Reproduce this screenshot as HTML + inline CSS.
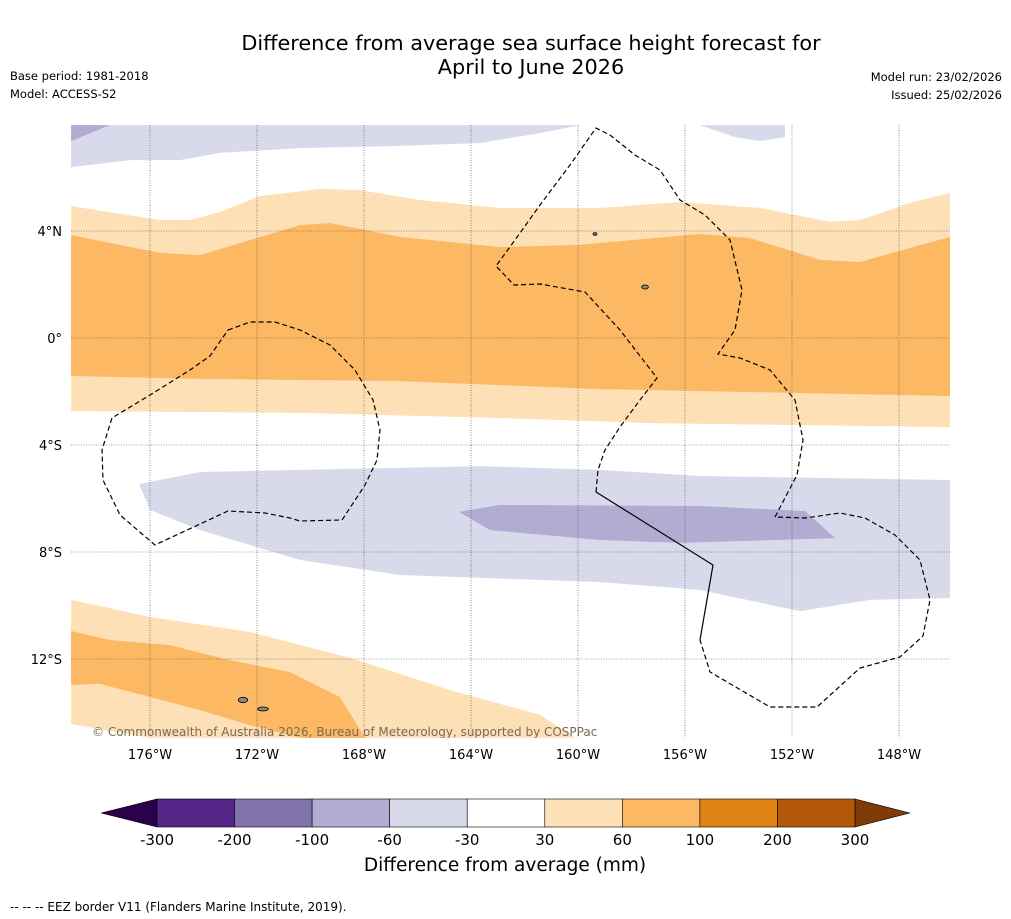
<!DOCTYPE html>
<html><head><meta charset="utf-8"><style>
html,body{margin:0;padding:0;background:#fff;width:1011px;height:919px;overflow:hidden;font-family:"DejaVu Sans","Liberation Sans",sans-serif}
svg{display:block}
</style></head><body>
<svg id="chart" width="1011" height="919" viewBox="0 0 1011 919">
<text x="531" y="50" text-anchor="middle" font-size="20.8">Difference from average sea surface height forecast for</text>
<text x="531" y="74" text-anchor="middle" font-size="20.8">April to June 2026</text>
<text x="10" y="80" font-size="11.5">Base period: 1981-2018</text>
<text x="10" y="98" font-size="11.5">Model: ACCESS-S2</text>
<text x="1002" y="81" font-size="11.5" text-anchor="end">Model run: 23/02/2026</text>
<text x="1002" y="99" font-size="11.5" text-anchor="end">Issued: 25/02/2026</text>
<defs><clipPath id="mapclip"><rect x="71" y="125" width="879" height="613"/></clipPath></defs>
<g id="map" clip-path="url(#mapclip)"></g>
<g id="axes"></g>
<g id="cbar"></g>
<text x="505" y="871" text-anchor="middle" font-size="18.5">Difference from average (mm)</text>
<text x="10" y="911" font-size="12">-- -- -- EEZ border V11 (Flanders Marine Institute, 2019).</text>
</svg>
<script>
const lonTicks=[-176,-172,-168,-164,-160,-156,-152,-148];
const lonTickLabels=["176°W","172°W","168°W","164°W","160°W","156°W","152°W","148°W"];
const latTicks=[4,0,-4,-8,-12];
const latTickLabels=["4°N","0°","4°S","8°S","12°S"];
const cbarLevels=["-300","-200","-100","-60","-30","30","60","100","200","300"];
const cbarColors=["#542788","#8073ac","#b2abd2","#d8daeb","#ffffff","#fee0b6","#fdb863","#e08214","#b35806"];
const lightOrangeNorth=[[-178.95,4.93],[-175.63,4.41],[-174.5,4.41],[-173.38,4.71],[-171.89,5.31],[-169.64,5.57],[-168.15,5.53],[-165.91,5.16],[-162.92,4.86],[-159.18,4.86],[-156.19,5.08],[-153.2,4.86],[-150.58,4.34],[-149.46,4.41],[-147.59,5.05],[-146.09,5.42],[-146.09,-3.33],[-157.31,-3.18],[-162.92,-2.99],[-170.39,-2.8],[-178.95,-2.73]];
const orangeBand=[[-178.95,3.85],[-175.63,3.18],[-174.13,3.1],[-170.39,4.22],[-169.27,4.3],[-166.65,3.78],[-162.92,3.4],[-159.93,3.48],[-155.44,3.89],[-153.57,3.74],[-150.95,2.92],[-149.46,2.84],[-146.09,3.78],[-146.09,-2.17],[-159.18,-1.91],[-166.65,-1.61],[-174.13,-1.53],[-178.95,-1.42]];
const lavenderNorth=[[-178.95,7.96],[-159.93,7.96],[-161.42,7.66],[-163.66,7.29],[-166.65,7.18],[-170.39,7.1],[-173.38,6.92],[-174.88,6.65],[-176.75,6.65],[-178.95,6.39]];
const purpleCorner=[[-178.95,7.96],[-177.5,7.96],[-178.95,7.36]];
const lavenderNE=[[-155.44,7.96],[-152.26,7.96],[-152.26,7.51],[-153.2,7.36],[-154.13,7.51]];
const lavenderMid=[[-176.41,-5.46],[-174.13,-5.01],[-170.39,-4.93],[-163.66,-4.79],[-159.18,-4.93],[-155.44,-5.16],[-146.09,-5.31],[-146.09,-9.72],[-149.08,-9.79],[-151.7,-10.21],[-155.44,-9.42],[-159.18,-9.12],[-163.66,-8.97],[-166.65,-8.86],[-170.39,-8.3],[-174.13,-7.18],[-176,-6.43]];
const purpleMid=[[-164.45,-6.5],[-162.92,-6.24],[-155.44,-6.28],[-151.51,-6.47],[-150.39,-7.48],[-156.19,-7.66],[-159.18,-7.55],[-163.29,-7.18]];
const lightOrangeSouth=[[-178.95,-9.79],[-177.87,-10.02],[-176,-10.43],[-172.26,-10.99],[-168.52,-11.96],[-164.79,-13.16],[-161.42,-14.09],[-160.11,-14.95],[-176,-14.95],[-178.95,-14.43]];
const orangeSouth=[[-178.95,-10.95],[-177.5,-11.29],[-175.25,-11.48],[-173.01,-12.04],[-170.77,-12.49],[-168.9,-13.42],[-167.96,-14.95],[-170.39,-14.95],[-172.26,-14.47],[-174.13,-13.91],[-176,-13.42],[-177.87,-12.93],[-178.95,-12.97]];
const X=lon=>150+(lon+176)*26.75, Y=lat=>338-lat*26.75;
const NS='http://www.w3.org/2000/svg';
function mk(tag,attrs,parent){const e=document.createElementNS(NS,tag);for(const k in attrs)e.setAttribute(k,attrs[k]);parent.appendChild(e);return e;}
const map=document.getElementById('map'),axes=document.getElementById('axes'),cb=document.getElementById('cbar');
function poly(arr,fill,name){const p=mk('polygon',{points:arr.map(d=>X(d[0]).toFixed(1)+','+Y(d[1]).toFixed(1)).join(' '),fill:fill},map);

}
poly(lightOrangeNorth,'#fee0b6','contour-30-60-north');
poly(orangeBand,'#fdb863','contour-60-100-equatorial');
poly(lavenderNorth,'#d8daeb','contour-neg30-neg60-north');
poly(purpleCorner,'#b2abd2','contour-neg60-neg100-corner');
poly(lavenderNE,'#d8daeb','contour-neg30-neg60-northeast');
poly(lavenderMid,'#d8daeb','contour-neg30-neg60-south');
poly(purpleMid,'#b2abd2','contour-neg60-neg100-south');
poly(lightOrangeSouth,'#fee0b6','contour-30-60-southwest');
poly(orangeSouth,'#fdb863','contour-60-100-southwest');
lonTicks.forEach((v,i)=>{const l=mk('line',{x1:X(v),x2:X(v),y1:125,y2:738,stroke:'#444','stroke-width':0.6,'stroke-dasharray':'1,1.5'},map);


const t=mk('text',{x:X(v),y:759,'text-anchor':'middle','font-size':13},axes);t.textContent=lonTickLabels[i];

});
latTicks.forEach((v,i)=>{const l=mk('line',{x1:71,x2:950,y1:Y(v),y2:Y(v),stroke:'#444','stroke-width':0.6,'stroke-dasharray':'1,1.5'},map);


const t=mk('text',{x:62,y:Y(v)+5,'text-anchor':'end','font-size':13},axes);t.textContent=latTickLabels[i];

});
const dashed=[
"228,330 250,322 275,322 300,330 330,345 355,370 373,400 380,430 377,460 365,485 342,520 300,521 290,518 265,513 228,511 155,545 120,515 103,480 102,450 112,418 150,395 190,370 210,356 228,330",
"596,492 598,470 605,450 620,427 640,400 657,378 620,330 585,292 540,284 514,285 496,266 515,240 540,205 570,165 596,128 610,135 635,155 660,170 680,200 705,215 730,240 742,290 735,330 718,354 740,358 770,370 795,400 803,440 797,475 775,517 805,518 840,513 865,518 895,535 920,560 930,600 923,636 900,657 860,668 817,707 770,707 710,672 700,640"];
dashed.forEach(s=>{const p=mk('polyline',{points:s,fill:'none',stroke:'#000','stroke-width':1.2,'stroke-dasharray':'5,3'},map);

});
const sl=mk('polyline',{points:"596,492 713,565 700,640",fill:'none',stroke:'#000','stroke-width':1.2},map);


[[243,700,7,4],[263,709,8,3],[645,287,5,3],[595,234,3,2]].forEach(d=>{const e=mk('ellipse',{cx:d[0],cy:d[1],rx:d[2]/1.5,ry:d[3]/1.5,fill:'#888',stroke:'#000','stroke-width':0.8},map);

});
const cp=mk('text',{x:92,y:736,'font-size':12,fill:'#7a6a55'},map);cp.textContent='© Commonwealth of Australia 2026, Bureau of Meteorology, supported by COSPPac';


const cx0=157,cx1=855,cy=799,ch=28,sw=(cx1-cx0)/cbarColors.length;
const lt=mk('polygon',{points:`101,${cy+ch/2} ${cx0},${cy} ${cx0},${cy+ch}`,fill:'#2d004b',stroke:'#000','stroke-width':0.6},cb);


const rt=mk('polygon',{points:`910,${cy+ch/2} ${cx1},${cy} ${cx1},${cy+ch}`,fill:'#7f3b08',stroke:'#000','stroke-width':0.6},cb);


cbarColors.forEach((c,i)=>{const r=mk('rect',{x:cx0+i*sw,y:cy,width:sw,height:ch,fill:c,stroke:'#000','stroke-width':0.6},cb);

});
cbarLevels.forEach((v,i)=>{const t=mk('text',{x:cx0+i*sw,y:845,'text-anchor':'middle','font-size':15},cb);t.textContent=v;

});
</script>
</body></html>
